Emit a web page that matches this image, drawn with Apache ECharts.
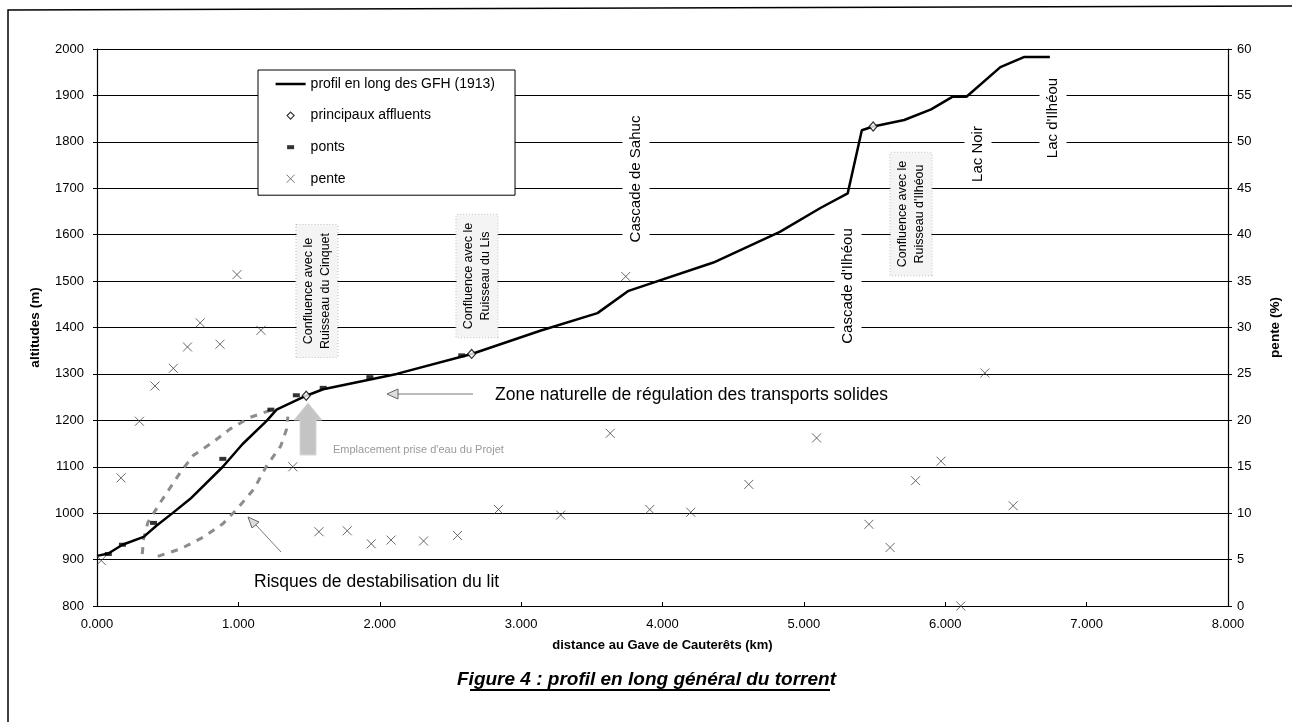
<!DOCTYPE html>
<html>
<head>
<meta charset="utf-8">
<script src="https://cdn.jsdelivr.net/npm/echarts@6/dist/echarts.min.js"></script>
<style>
  html, body { margin: 0; padding: 0; background: #fff; }
  #chart { width: 1292px; height: 722px; }
</style>
</head>
<body>
<div id="chart"></div>
<script>
// profil en long des GFH (1913)
const profilKm = [0, 0.08, 0.18, 0.33, 0.42, 0.53, 0.66, 0.89, 1.03, 1.20, 1.27, 1.48, 1.60, 2.12, 2.65, 3.135, 3.54, 3.76, 4.36, 4.83, 5.12, 5.31, 5.41, 5.49, 5.71, 5.90, 6.05, 6.15, 6.39, 6.56, 6.74];
const profilAlt = [908, 913, 932, 949, 973, 999, 1031, 1100, 1149, 1199, 1223, 1253, 1267, 1300, 1343, 1393, 1431, 1479, 1540, 1606, 1658, 1689, 1825, 1833, 1847, 1870, 1897, 1897, 1961, 1983, 1983];

// principaux affluents
const affluentsKm = [1.48, 2.65, 5.49];
const affluentsAlt = [1253, 1343, 1833];

// ponts
const pontsKm = [0.08, 0.18, 0.40, 0.89, 1.23, 1.41, 1.60, 1.93, 2.58];
const pontsAlt = [912, 932, 979, 1117, 1223, 1254, 1270, 1293, 1340];

// pente (%)
const penteKm = [0.03, 0.17, 0.30, 0.41, 0.54, 0.64, 0.73, 0.87, 0.99, 1.16, 1.385, 1.57, 1.77, 1.94, 2.08, 2.31, 2.55, 2.84, 3.28, 3.63, 3.74, 3.91, 4.20, 4.61, 5.09, 5.46, 5.61, 5.79, 5.97, 6.11, 6.28, 6.48];
const pentePct = [4.9, 13.8, 19.9, 23.7, 25.6, 27.9, 30.5, 28.2, 35.7, 29.7, 15.0, 8.0, 8.1, 6.7, 7.1, 7.0, 7.6, 10.4, 9.8, 18.6, 35.5, 10.4, 10.1, 13.1, 18.1, 8.8, 6.3, 13.5, 15.6, 0, 25.1, 10.8];

// limites de la zone à risque (traits tiretés)
const risqueHautKm = [0.32, 0.33, 0.36, 0.45, 0.59, 0.68, 0.82, 0.94, 1.08, 1.25];
const risqueHautAlt = [912, 945, 980, 1024, 1088, 1124, 1153, 1181, 1206, 1224];
const risqueBasKm = [0.43, 0.59, 0.75, 0.89, 0.99, 1.11, 1.20, 1.30, 1.34, 1.35];
const risqueBasAlt = [907, 923, 948, 977, 1009, 1052, 1102, 1145, 1180, 1208];

const xTicks = [0, 1, 2, 3, 4, 5, 6, 7, 8];

const FONT = 'Liberation Sans, Arial, sans-serif';

function pairs(xs, ys) {
  return xs.map((x, i) => [x, ys[i]]);
}

const chart = echarts.init(document.getElementById('chart'));

function vLabel(text, x, y, opts) {
  opts = opts || {};
  return {
    type: 'text',
    x: x,
    y: y,
    rotation: Math.PI / 2,
    z: 100,
    style: {
      text: text,
      font: (opts.size || 15) + 'px ' + FONT,
      fill: '#000',
      align: 'center',
      verticalAlign: 'middle',
      lineHeight: opts.lineHeight || 17,
      backgroundColor: opts.bg || '#fff',
      borderColor: opts.border || null,
      borderWidth: opts.border ? 1 : 0,
      borderDash: opts.border ? [1, 2] : null,
      padding: opts.padding || [5, 5]
    }
  };
}

const option = {
  animation: false,
  textStyle: { fontFamily: FONT },
  title: {
    text: 'Figure 4 : profil en long général du torrent',
    left: 452,
    top: 665,
    textStyle: { fontFamily: FONT, fontSize: 19, fontWeight: 'bold', fontStyle: 'italic', color: '#000' }
  },
  legend: {
    orient: 'vertical',
    left: 258,
    top: 70,
    padding: [7, 20, 9, 17],
    itemWidth: 30,
    itemHeight: 14,
    itemGap: 17,
    backgroundColor: '#fff',
    borderColor: '#000',
    borderWidth: 1,
    textStyle: { fontFamily: FONT, fontSize: 14, color: '#000' },
    data: [
      { name: 'profil en long des GFH (1913)', icon: 'path://M0,0M30,14M0,5.75h30v2.5h-30z', itemStyle: { color: '#000' } },
      { name: 'principaux affluents', icon: 'path://M0,0M30,14M15,3.5L18.5,7L15,10.5L11.5,7Z', itemStyle: { color: '#fff', borderColor: '#000', borderWidth: 1.2 } },
      { name: 'ponts', icon: 'path://M0,0M30,14M11.5,5h7v4h-7z', itemStyle: { color: '#000' } },
      { name: 'pente', icon: 'path://M0,0M30,14M11,3L19,11M19,3L11,11', itemStyle: { color: 'rgba(0,0,0,0)', borderColor: '#555', borderWidth: 1 } }
    ]
  },
  grid: { left: 97, right: 64, top: 49, bottom: 116 },
  xAxis: {
    type: 'value',
    min: 0,
    max: 8,
    interval: 1,
    name: 'distance au Gave de Cauterêts (km)',
    nameLocation: 'middle',
    nameGap: 33,
    nameTextStyle: { fontFamily: FONT, fontSize: 13, fontWeight: 'bold', color: '#000' },
    axisLine: { lineStyle: { color: '#000', width: 1.2 } },
    axisTick: { inside: true, length: 4, lineStyle: { color: '#000' } },
    axisLabel: {
      margin: 12,
      fontSize: 13,
      color: '#000',
      formatter: v => xTicks.indexOf(v) >= 0 ? v.toFixed(3) : ''
    },
    splitLine: { show: false }
  },
  yAxis: [
    {
      type: 'value',
      min: 800,
      max: 2000,
      interval: 100,
      name: 'altitudes (m)',
      nameLocation: 'middle',
      nameRotate: 90,
      nameGap: 55,
      nameTextStyle: { fontFamily: FONT, fontSize: 13.5, fontWeight: 'bold', color: '#000' },
      axisLine: { show: true, lineStyle: { color: '#000', width: 1.2 } },
      axisTick: { show: true, length: 4, lineStyle: { color: '#000' } },
      axisLabel: { margin: 13, fontSize: 13, color: '#000', formatter: v => String(v) },
      splitLine: { show: true, lineStyle: { color: '#000', width: 1.2 } }
    },
    {
      type: 'value',
      position: 'right',
      min: 0,
      max: 60,
      interval: 5,
      name: 'pente (%)',
      nameLocation: 'middle',
      nameRotate: 90,
      nameGap: 40,
      nameTextStyle: { fontFamily: FONT, fontSize: 13.5, fontWeight: 'bold', color: '#000' },
      axisLine: { show: true, lineStyle: { color: '#000', width: 1.2 } },
      axisTick: { show: true, length: 4, lineStyle: { color: '#000' } },
      axisLabel: { margin: 9, fontSize: 13, color: '#000', formatter: v => String(v) },
      splitLine: { show: false }
    }
  ],
  series: [
    {
      name: 'risque haut',
      type: 'line',
      symbol: 'none',
      z: 3,
      data: pairs(risqueHautKm, risqueHautAlt),
      lineStyle: { color: '#8c8c8c', width: 3, type: [7, 7] }
    },
    {
      name: 'risque bas',
      type: 'line',
      symbol: 'none',
      z: 3,
      data: pairs(risqueBasKm, risqueBasAlt),
      lineStyle: { color: '#8c8c8c', width: 3, type: [7, 7] }
    },
    {
      name: 'profil en long des GFH (1913)',
      type: 'line',
      symbol: 'none',
      z: 4,
      data: pairs(profilKm, profilAlt),
      lineStyle: { color: '#000', width: 2.5 },
      itemStyle: { color: '#000' }
    },
    {
      name: 'ponts',
      type: 'scatter',
      symbol: 'rect',
      symbolSize: [7, 4],
      z: 5,
      data: pairs(pontsKm, pontsAlt),
      itemStyle: { color: '#000' }
    },
    {
      name: 'principaux affluents',
      type: 'scatter',
      symbol: 'diamond',
      symbolSize: [8, 9],
      z: 6,
      data: pairs(affluentsKm, affluentsAlt),
      itemStyle: { color: '#fff', borderColor: '#000', borderWidth: 1.2 }
    },
    {
      name: 'pente',
      type: 'scatter',
      yAxisIndex: 1,
      symbol: 'path://M0,0L10,10M10,0L0,10',
      symbolSize: 9,
      z: 5,
      data: pairs(penteKm, pentePct),
      itemStyle: { color: 'rgba(0,0,0,0)', borderColor: '#444', borderWidth: 1 }
    }
  ],
  graphic: [
    // cadre de la figure
    { type: 'polyline', z: 1, shape: { points: [[8, 722], [8, 10], [1292, 6]] }, style: { stroke: '#000', lineWidth: 1.5, fill: null } },

    // repères verticaux
    vLabel('Confluence avec le\nRuisseau du Cinquet', 317, 291, { size: 12.5, lineHeight: 16.5, bg: '#f4f4f4', border: '#bbb', padding: [4, 8] }),
    vLabel('Confluence avec le\nRuisseau du Lis', 477, 276, { size: 12.5, lineHeight: 16.5, bg: '#f4f4f4', border: '#bbb', padding: [4, 8] }),
    vLabel('Cascade de Sahuc', 636, 179),
    vLabel("Cascade d'Ilhéou", 848, 286),
    vLabel("Confluence avec le\nRuisseau d'Ilhéou", 911, 214, { size: 12.5, lineHeight: 16.5, bg: '#f4f4f4', border: '#bbb', padding: [4, 8] }),
    vLabel('Lac Noir', 978, 154),
    vLabel("Lac d'Ilhéou", 1053, 118),

    // zone naturelle de régulation
    { type: 'text', z: 100, x: 495, y: 395, style: { text: 'Zone naturelle de régulation des transports solides', font: '17.5px ' + FONT, fill: '#000', verticalAlign: 'middle' } },
    { type: 'line', z: 100, shape: { x1: 397, y1: 394, x2: 473, y2: 394 }, style: { stroke: '#777', lineWidth: 1 } },
    { type: 'polygon', z: 100, shape: { points: [[387, 394], [398, 389], [398, 399]] }, style: { fill: '#ddd', stroke: '#666', lineWidth: 1 } },

    // prise d'eau du projet
    { type: 'polygon', z: 100, shape: { points: [[308, 403], [322, 420], [316, 420], [316, 455], [300, 455], [300, 420], [294, 420]] }, style: { fill: '#c4c4c4', stroke: '#d8d8d8', lineWidth: 1 } },
    { type: 'text', z: 100, x: 333, y: 450, style: { text: "Emplacement prise d'eau du Projet", font: '11px ' + FONT, fill: '#9a9a9a', verticalAlign: 'middle' } },

    // risques de déstabilisation
    { type: 'text', z: 100, x: 254, y: 582, style: { text: 'Risques de destabilisation du lit', font: '17.5px ' + FONT, fill: '#000', verticalAlign: 'middle' } },
    { type: 'line', z: 100, shape: { x1: 281, y1: 552, x2: 255, y2: 524 }, style: { stroke: '#777', lineWidth: 1 } },
    { type: 'polygon', z: 100, shape: { points: [[248, 517], [259, 522], [252, 528]] }, style: { fill: '#ddd', stroke: '#666', lineWidth: 1 } },

    // soulignement du titre
    { type: 'line', z: 100, shape: { x1: 470, y1: 690, x2: 830, y2: 690 }, style: { stroke: '#000', lineWidth: 2 } }
  ]
};

chart.setOption(option);
</script>
</body>
</html>
